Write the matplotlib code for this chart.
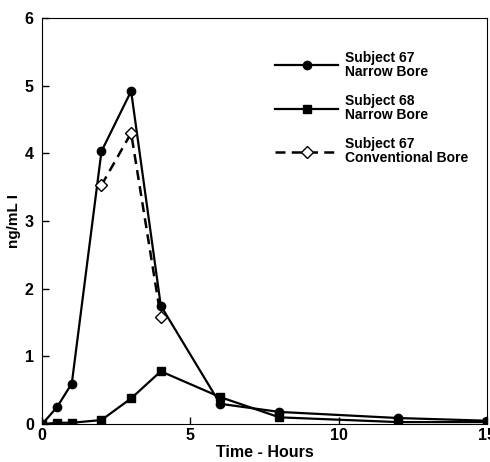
import matplotlib
matplotlib.use("Agg")
import matplotlib.pyplot as plt

plt.rcParams['font.family'] = ['Liberation Sans', 'DejaVu Sans']
plt.rcParams['font.weight'] = 'bold'

hours_67 = [0, 0.5, 1, 2, 3, 4, 6, 8, 12, 15]
narrow_67 = [0, 0.25, 0.6, 4.03, 4.92, 1.75, 0.30, 0.18, 0.09, 0.05]

hours_68 = [0, 0.5, 1, 2, 3, 4, 6, 8, 12, 15]
narrow_68 = [0, 0.02, 0.02, 0.06, 0.38, 0.78, 0.40, 0.10, 0.03, 0.03]

hours_conv = [2, 3, 4]
conv_67 = [3.53, 4.30, 1.58]

fig = plt.figure(figsize=(4.9, 4.62), dpi=100)
ax = fig.add_axes([0.086, 0.082, 0.908, 0.879])

ax.plot(hours_67, narrow_67, color="black", lw=1.6, marker="o", ms=6,
        label="Subject 67\nNarrow Bore")
ax.plot(hours_68, narrow_68, color="black", lw=1.6, marker="s", ms=6,
        label="Subject 68\nNarrow Bore")
ax.plot(hours_conv, conv_67, color="black", lw=1.8, ls=(0, (4, 2.5)), marker="D",
        ms=6.5, mfc="white", mec="black", mew=1, label="Subject 67\nConventional Bore")

ax.set_xlim(0, 15)
ax.set_ylim(0, 6)
ax.set_xticks([0, 5, 10, 15])
ax.set_yticks(range(7))
ax.tick_params(direction="in", length=5, width=1, labelsize=11.5, pad=3)
ax.tick_params(axis="y", pad=6)
ax.set_xlabel("Time - Hours", fontsize=11.5, fontweight="bold", labelpad=1)
ax.set_ylabel("ng/mL I", fontsize=11, fontweight="bold", labelpad=3)

leg = ax.legend(loc="upper left", bbox_to_anchor=(0.524, 0.92), frameon=False,
                fontsize=10, handlelength=4.5, handletextpad=0.55,
                labelspacing=1.05, borderpad=0, borderaxespad=0)
for t in leg.get_texts():
    t.set_linespacing(1.05)

fig.savefig("out.png", dpi=100)
